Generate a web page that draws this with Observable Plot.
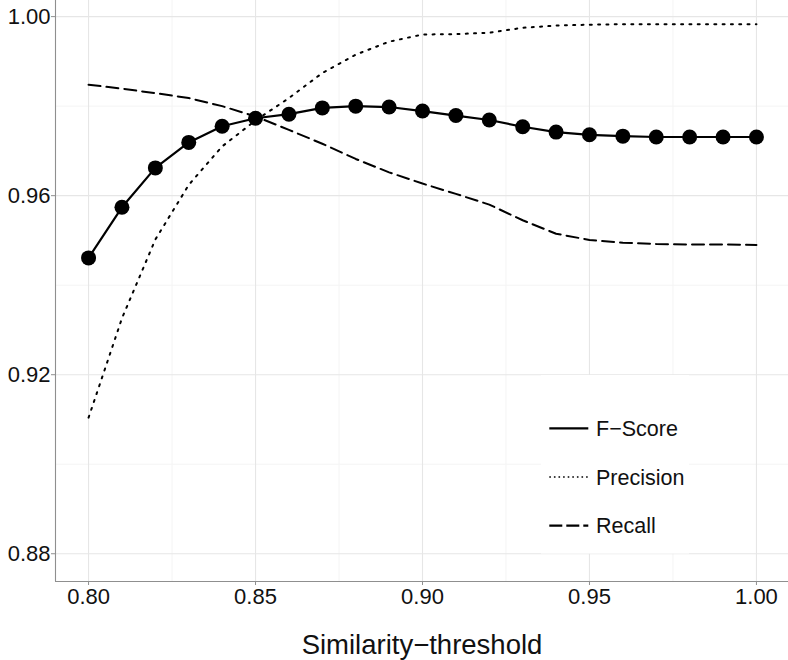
<!DOCTYPE html>
<html>
<head>
<meta charset="utf-8">
<script src="https://cdn.jsdelivr.net/npm/d3@7"></script>
<script src="https://cdn.jsdelivr.net/npm/@observablehq/plot@0.6"></script>
<style>
  html, body { margin: 0; padding: 0; background: white; }
  #chart svg { display: block; }
</style>
</head>
<body>
<div id="chart"></div>
<script>
// ---- data ----
const thresholds = [0.80, 0.81, 0.82, 0.83, 0.84, 0.85, 0.86, 0.87, 0.88, 0.89, 0.90,
                    0.91, 0.92, 0.93, 0.94, 0.95, 0.96, 0.97, 0.98, 0.99, 1.00];
const fScore    = [0.9461, 0.9574, 0.9662, 0.9719, 0.9755, 0.9773, 0.9782, 0.9796, 0.9800, 0.9798, 0.9789,
                   0.9779, 0.9769, 0.9754, 0.9742, 0.9736, 0.9733, 0.9731, 0.9731, 0.9731, 0.9731];
const precision = [0.9104, 0.9326, 0.9502, 0.9624, 0.9710, 0.9768, 0.9818, 0.9874, 0.9915, 0.9944, 0.9960,
                   0.9961, 0.9964, 0.9975, 0.9980, 0.9982, 0.9983, 0.9983, 0.9983, 0.9983, 0.9983];
const recall    = [0.9848, 0.9839, 0.9829, 0.9818, 0.9800, 0.9777, 0.9747, 0.9716, 0.9682, 0.9652, 0.9627,
                   0.9604, 0.9580, 0.9545, 0.9515, 0.9501, 0.9495, 0.9492, 0.9491, 0.9491, 0.9490];
const xMajor = [0.80, 0.85, 0.90, 0.95, 1.00];
const xMinor = [0.825, 0.875, 0.925, 0.975];
const yMajor = [0.88, 0.92, 0.96, 1.00];
const yMinor = [0.90, 0.94, 0.98];
const xTitle = "Similarity\u2212threshold";
const legendLabels = ["F\u2212Score", "Precision", "Recall"];

const rows = thresholds.map((t, i) => ({t, f: fScore[i], p: precision[i], r: recall[i]}));

const FONT = "'Liberation Sans', Arial, sans-serif";
const AXIS = "#8f8f8f";
const DOTTED = "2,6.3";
const DASHED = "12,6";

const chart = Plot.plot({
  width: 788,
  height: 660,
  marginLeft: 55,
  marginRight: 0,
  marginTop: 0,
  marginBottom: 79,
  style: {fontFamily: FONT, background: "white", color: "#111"},
  x: {domain: [0.7901, 1.0096]},
  y: {domain: [0.8738, 1.0036]},
  marks: [
    Plot.ruleX(xMinor, {stroke: "#f4f4f4", strokeWidth: 1}),
    Plot.ruleY(yMinor, {stroke: "#f4f4f4", strokeWidth: 1}),
    Plot.ruleX(xMajor, {stroke: "#e6e6e6", strokeWidth: 1.1}),
    Plot.ruleY(yMajor, {stroke: "#e6e6e6", strokeWidth: 1.1}),
    Plot.line(rows, {x: "t", y: "r", stroke: "black", strokeWidth: 2, strokeDasharray: DASHED}),
    Plot.line(rows, {x: "t", y: "p", stroke: "black", strokeWidth: 2, strokeDasharray: DOTTED}),
    Plot.line(rows, {x: "t", y: "f", stroke: "black", strokeWidth: 2.2}),
    Plot.dot(rows, {x: "t", y: "f", r: 7.5, fill: "black", stroke: "none"}),
    Plot.ruleX([0.7901], {stroke: AXIS, strokeWidth: 1.1}),
    Plot.ruleY([0.8738], {stroke: AXIS, strokeWidth: 1.1}),
    Plot.axisX(xMajor, {tickFormat: d => d.toFixed(2), tickSize: 4, tickPadding: 3, fontSize: 22,
                        stroke: AXIS, fill: "#111", label: null}),
    Plot.axisY(yMajor, {tickFormat: d => d.toFixed(2), tickSize: 4, tickPadding: 1, fontSize: 22,
                        stroke: AXIS, fill: "#111", label: null}),
    Plot.text([xTitle], {frameAnchor: "bottom", dy: 72, fontSize: 27.5, fill: "#111"})
  ]
});
document.getElementById("chart").appendChild(chart);

// ---- legend inside the panel (bottom right) ----
const svg = d3.select(chart);
const lg = svg.append("g").attr("font-family", FONT).attr("text-anchor", "start");
lg.append("rect").attr("x", 541).attr("y", 375).attr("width", 148).attr("height", 178.5).attr("fill", "white");
const styles = [
  {w: 2.2, dash: null},
  {w: 1.6, dash: "1.6,3"},
  {w: 2.2, dash: "13,4"}
];
legendLabels.forEach((lab, i) => {
  const cy = 428.3 + i * 48.7;
  const ln = lg.append("line").attr("x1", 549.3).attr("x2", 588.3).attr("y1", cy).attr("y2", cy)
    .attr("stroke", "black").attr("stroke-width", styles[i].w);
  if (styles[i].dash) ln.attr("stroke-dasharray", styles[i].dash);
  lg.append("text").attr("x", 596).attr("y", cy).attr("dy", "0.35em")
    .attr("text-anchor", "start")
    .attr("font-size", 21.5).attr("fill", "#111").text(lab);
});
</script>
</body>
</html>
